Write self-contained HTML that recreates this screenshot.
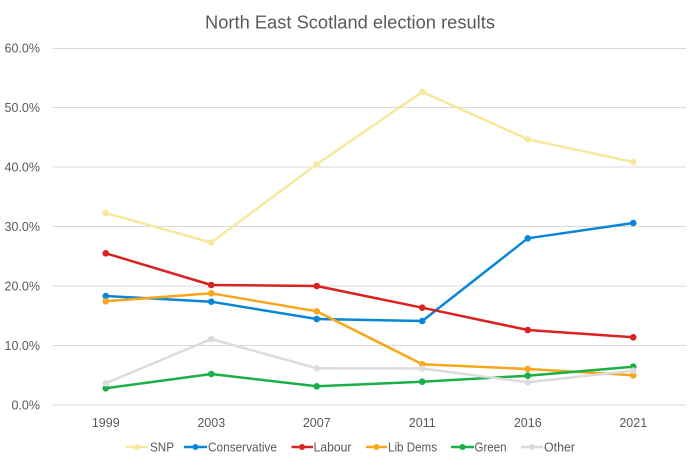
<!DOCTYPE html>
<html><head><meta charset="utf-8"><style>
html,body{margin:0;padding:0;background:#fff;}
svg{display:block;font-family:"Liberation Sans",Arial,sans-serif;}
</style></head><body>
<svg width="700" height="467" viewBox="0 0 700 467" xmlns="http://www.w3.org/2000/svg">
<rect width="700" height="467" fill="#fff"/>
<text x="350" y="28.5" text-anchor="middle" font-size="18.5" fill="#595959" textLength="290" lengthAdjust="spacingAndGlyphs">North East Scotland election results</text>
<g stroke="#d9d9d9" stroke-width="1">
<line x1="53" x2="686" y1="48.5" y2="48.5"/>
<line x1="53" x2="686" y1="107.5" y2="107.5"/>
<line x1="53" x2="686" y1="167" y2="167"/>
<line x1="53" x2="686" y1="226.5" y2="226.5"/>
<line x1="53" x2="686" y1="286" y2="286"/>
<line x1="53" x2="686" y1="345.5" y2="345.5"/>
<line x1="53" x2="686" y1="405" y2="405"/>
</g>
<g font-size="12.5" fill="#595959" text-anchor="end">
<text x="40" y="52.5">60.0%</text>
<text x="40" y="112">50.0%</text>
<text x="40" y="171.5">40.0%</text>
<text x="40" y="231">30.0%</text>
<text x="40" y="290.5">20.0%</text>
<text x="40" y="350">10.0%</text>
<text x="40" y="409.5">0.0%</text>
</g>
<g font-size="12.5" fill="#595959" text-anchor="middle">
<text x="105.75" y="427">1999</text>
<text x="211.25" y="427">2003</text>
<text x="316.75" y="427">2007</text>
<text x="422.25" y="427">2011</text>
<text x="527.75" y="427">2016</text>
<text x="633.25" y="427">2021</text>
</g>
<g fill="none" stroke-width="2.5" stroke-linejoin="round" stroke-linecap="round">
<polyline stroke="#F6E89E" points="105.75,213 211.25,242.5 316.75,164.3 422.25,91.8 527.75,139.3 633.25,162"/>
<polyline stroke="#0A86D8" points="105.75,296 211.25,301.7 316.75,319 422.25,321 527.75,238.3 633.25,223"/>
<polyline stroke="#D92320" points="105.75,253.3 211.25,285 316.75,286 422.25,307.7 527.75,330 633.25,337.3"/>
<polyline stroke="#F9A61C" points="105.75,301.3 211.25,293.3 316.75,311.3 422.25,364.3 527.75,369 633.25,375.3"/>
<polyline stroke="#1BAF48" points="105.75,388.3 211.25,374 316.75,386.3 422.25,381.7 527.75,375.7 633.25,366.7"/>
<polyline stroke="#DCDCDC" points="105.75,383.3 211.25,339 316.75,368.3 422.25,368.5 527.75,382.3 633.25,370.7"/>
</g>
<g fill="#F6E89E"><circle cx="105.75" cy="213" r="3.3"/><circle cx="211.25" cy="242.5" r="3.3"/><circle cx="316.75" cy="164.3" r="3.3"/><circle cx="422.25" cy="91.8" r="3.3"/><circle cx="527.75" cy="139.3" r="3.3"/><circle cx="633.25" cy="162" r="3.3"/></g>
<g fill="#0A86D8"><circle cx="105.75" cy="296" r="3.3"/><circle cx="211.25" cy="301.7" r="3.3"/><circle cx="316.75" cy="319" r="3.3"/><circle cx="422.25" cy="321" r="3.3"/><circle cx="527.75" cy="238.3" r="3.3"/><circle cx="633.25" cy="223" r="3.3"/></g>
<g fill="#D92320"><circle cx="105.75" cy="253.3" r="3.3"/><circle cx="211.25" cy="285" r="3.3"/><circle cx="316.75" cy="286" r="3.3"/><circle cx="422.25" cy="307.7" r="3.3"/><circle cx="527.75" cy="330" r="3.3"/><circle cx="633.25" cy="337.3" r="3.3"/></g>
<g fill="#F9A61C"><circle cx="105.75" cy="301.3" r="3.3"/><circle cx="211.25" cy="293.3" r="3.3"/><circle cx="316.75" cy="311.3" r="3.3"/><circle cx="422.25" cy="364.3" r="3.3"/><circle cx="527.75" cy="369" r="3.3"/><circle cx="633.25" cy="375.3" r="3.3"/></g>
<g fill="#1BAF48"><circle cx="105.75" cy="388.3" r="3.3"/><circle cx="211.25" cy="374" r="3.3"/><circle cx="316.75" cy="386.3" r="3.3"/><circle cx="422.25" cy="381.7" r="3.3"/><circle cx="527.75" cy="375.7" r="3.3"/><circle cx="633.25" cy="366.7" r="3.3"/></g>
<g fill="#DCDCDC"><circle cx="105.75" cy="383.3" r="3.3"/><circle cx="211.25" cy="339" r="3.3"/><circle cx="316.75" cy="368.3" r="3.3"/><circle cx="422.25" cy="368.5" r="3.3"/><circle cx="527.75" cy="382.3" r="3.3"/><circle cx="633.25" cy="370.7" r="3.3"/></g>
<g stroke-width="2.5">
<line x1="126" x2="148" y1="447" y2="447" stroke="#F6E89E"/>
<line x1="184" x2="207" y1="447" y2="447" stroke="#0A86D8"/>
<line x1="291.5" x2="313" y1="447" y2="447" stroke="#D92320"/>
<line x1="366" x2="387" y1="447" y2="447" stroke="#F9A61C"/>
<line x1="451" x2="474" y1="447" y2="447" stroke="#1BAF48"/>
<line x1="521" x2="543" y1="447" y2="447" stroke="#DCDCDC"/>
</g>
<circle cx="137" cy="447" r="3" fill="#F6E89E"/>
<circle cx="195.5" cy="447" r="3" fill="#0A86D8"/>
<circle cx="302" cy="447" r="3" fill="#D92320"/>
<circle cx="376.5" cy="447" r="3" fill="#F9A61C"/>
<circle cx="462.5" cy="447" r="3" fill="#1BAF48"/>
<circle cx="532" cy="447" r="3" fill="#DCDCDC"/>
<g font-size="12.5" fill="#595959">
<text x="150" y="451.5" textLength="24" lengthAdjust="spacingAndGlyphs">SNP</text>
<text x="208" y="451.5" textLength="69" lengthAdjust="spacingAndGlyphs">Conservative</text>
<text x="313.5" y="451.5" textLength="38" lengthAdjust="spacingAndGlyphs">Labour</text>
<text x="388" y="451.5" textLength="49" lengthAdjust="spacingAndGlyphs">Lib Dems</text>
<text x="474.5" y="451.5" textLength="32" lengthAdjust="spacingAndGlyphs">Green</text>
<text x="544" y="451.5" textLength="31" lengthAdjust="spacingAndGlyphs">Other</text>
</g>
</svg>
</body></html>
